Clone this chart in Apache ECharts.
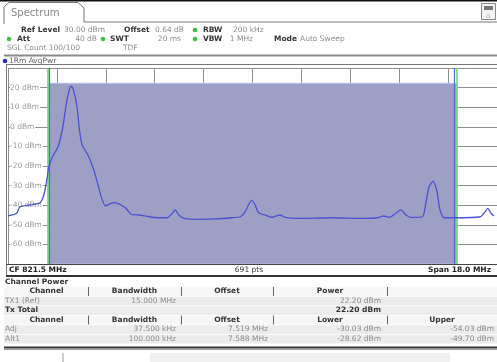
<!DOCTYPE html>
<html><head><meta charset="utf-8">
<script src="https://cdn.jsdelivr.net/npm/echarts@6/dist/echarts.min.js"></script>
<style>html,body{margin:0;padding:0;background:#fff}#c{width:497px;height:362px}</style>
</head><body><div id="c"></div>
<script>
// Frequency offset from CF 821.5 MHz (MHz), level (dBm)
const traceFreq = [-9.0,-8.68,-8.56,-8.2,-7.83,-7.68,-7.57,-7.5,-7.35,-7.16,-6.98,-6.85,-6.73,-6.67,-6.59,-6.46,-6.37,-6.27,-6.06,-5.88,-5.7,-5.57,-5.41,-5.27,-5.09,-4.84,-4.66,-4.47,-4.17,-3.8,-3.44,-3.14,-2.95,-2.85,-2.71,-2.52,-1.98,-1.36,-0.76,-0.45,-0.27,-0.15,-0.03,0.10,0.22,0.46,0.71,1.01,1.20,1.68,2.90,4.13,4.61,4.83,5.04,5.28,5.46,5.65,5.83,6.26,6.38,6.50,6.65,6.78,6.90,7.05,7.42,8.39,8.54,8.66,8.78,8.89];
const traceLevel = [-45.5,-44.1,-40.8,-39.9,-38.9,-34.8,-27.1,-20.5,-15,-10.2,0.0,12.0,19.6,20.8,18.8,10.3,-1.6,-9.3,-14.4,-20.4,-28.9,-35.7,-40.4,-39.4,-38.7,-39.9,-41.6,-44.6,-45.0,-45.9,-46.4,-46.4,-44.1,-42.4,-45.0,-46.7,-47.2,-47.0,-46.4,-45.9,-43.3,-39.9,-37.5,-39.9,-43.8,-45.0,-46.2,-45.0,-46.2,-46.7,-46.4,-46.7,-46.4,-45.5,-46.2,-44.1,-42.4,-45.0,-46.2,-45.9,-39.0,-30.6,-27.7,-32.2,-42.4,-46.4,-46.4,-45.9,-43.8,-41.6,-44.1,-45.5];
const yTicks = [20,10,0,-10,-20,-30,-40,-50,-60];
const channelBW = 15.0;      // MHz
const channelPower = 22.20;  // dBm
const span = 18.0;

const tableHead1 = ['Channel','Bandwidth','Offset','Power',''];
const tableRowTx = ['TX1 (Ref)','15.000 MHz','','22.20 dBm',''];
const tableRowTot = ['Tx Total','','','22.20 dBm',''];
const tableHead2 = ['Channel','Bandwidth','Offset','Lower','Upper'];
const tableRowAdj = ['Adj','37.500 kHz','7.519 MHz','-30.03 dBm','-54.03 dBm'];
const tableRowAlt = ['Alt1','100.000 kHz','7.588 MHz','-28.62 dBm','-49.70 dBm'];

const F = 'DejaVu Sans, Verdana, sans-serif';
const chart = echarts.init(document.getElementById('c'), null, {renderer:'canvas'});
const g = [];
function T(x,y,s,opt){ g.push({type:'text',x:x,y:y,style:Object.assign({text:s,font:'7.5px '+F,fill:'#8c8c8c',textVerticalAlign:'middle'},opt||{}),z:20}); }
function B(x,y,s,opt){ T(x,y,s,Object.assign({font:'bold 7.5px '+F,fill:'#333'},opt||{})); }
function R(x,y,w,h,fill,z){ g.push({type:'rect',shape:{x:x,y:y,width:w,height:h},style:{fill:fill},z:z||10}); }
function L(x1,y1,x2,y2,c,w,z){ g.push({type:'line',shape:{x1:x1,y1:y1,x2:x2,y2:y2},style:{stroke:c,lineWidth:w||1},z:z||15}); }
function Dot(x,y,c){ g.push({type:'circle',shape:{cx:x,cy:y,r:2.3},style:{fill:c},z:20}); }

// top chrome
L(0,0.5,497,0.5,'#111',2);
g.push({type:'polyline',shape:{points:[[4,24],[4,7],[9,2.5],[78,2.5],[84,8],[84,22],[497,22]]},style:{stroke:'#777',lineWidth:1,fill:null},z:15});
T(11,13,'Spectrum',{font:'10px '+F,fill:'#888'});
R(481,3,15,17,'#f4f4f4',14);
g.push({type:'rect',shape:{x:481.5,y:3.5,width:14,height:16},style:{fill:null,stroke:'#888'},z:15});
R(484,6,9,4,'#777',16);
T(488,15,'\u25B3',{font:'6px '+F,fill:'#777',textAlign:'center'});
// info block
B(21,30,'Ref Level'); T(64,30,'30.00 dBm');
B(124,30,'Offset'); T(155,30,'0.64 dB'); Dot(195,30,'#3fbf3f'); B(203,30,'RBW'); T(233,30,'200 kHz');
Dot(9,39,'#3fbf3f'); B(17,39,'Att'); T(97,39,'40 dB',{textAlign:'right'}); Dot(103,39,'#3fbf3f'); B(110,39,'SWT');
T(181,39,'20 ms',{textAlign:'right'}); Dot(195,39,'#3fbf3f'); B(203,39,'VBW'); T(253,39,'1 MHz',{textAlign:'right'});
B(274,39,'Mode'); T(300,39,'Auto Sweep');
T(7,48,'SGL Count 100/100'); T(123,48,'TDF');
L(4,55.5,497,55.5,'#8a8a8a',2);
Dot(5,61,'#2a2ad0'); T(9,61,'1Rm AvgPwr',{font:'7.5px '+F,fill:'#666'});
L(6,64.5,497,64.5,'#777',1);
L(6.5,64,6.5,276,'#777',1);
// bottom bar of diagram
R(7,265,490,10,'#fff',12);
L(6,264.5,497,264.5,'#444',1);
L(6,276,497,276,'#333',2);
B(9,270,'CF 821.5 MHz',{fill:'#222'});
T(249,270,'691 pts',{textAlign:'center',fill:'#333'});
B(491,270,'Span 18.0 MHz',{textAlign:'right',fill:'#222'});
// table
B(5,282,'Channel Power',{fill:'#333'});
const rows=[[tableHead1,291.5,true],[tableRowTx,301,false],[tableRowTot,310.5,'tot'],[tableHead2,320,true],[tableRowAdj,329.5,false],[tableRowAlt,339,false]];
const colX=[5,88,181,273,387,497];
rows.forEach(function(r){
  const cells=r[0], y=r[1], kind=r[2];
  R(4,y-4.3,493,8.8,kind===true?'#f6f6f6':'#ececec',9);
  if(kind===true){
    for(let i=0;i<5;i++){ if(cells[i]) B((colX[i]+colX[i+1])/2,y,cells[i],{textAlign:'center',fill:'#333'}); }
    [88,181,273,387].forEach(function(x){L(x+0.5,y-4.5,x+0.5,y+4.5,'#666',1);});
  } else if(kind==='tot'){
    B(5,y,cells[0],{fill:'#333'});
    B(381,y,cells[3],{textAlign:'right',fill:'#333'});
  } else {
    T(5,y,cells[0]);
    const rx=[0,176,268,381,494];
    for(let i=1;i<5;i++){ if(cells[i]) T(rx[i],y,cells[i],{textAlign:'right'}); }
  }
});
L(4,347.5,497,347.5,'#333',2);
L(4,349.5,497,349.5,'#999',1);
R(150,353,300,9,'#f0f0f0',9);
L(63,353,63,362,'#999',1);

chart.setOption({
  animation:false,
  backgroundColor:'#fff',
  grid:{left:8,right:-3,top:68,bottom:98,containLabel:false},
  xAxis:{type:'value',min:-span/2,max:span/2,interval:1.8,
    axisLine:{show:false},axisTick:{show:false},axisLabel:{show:false},
    splitLine:{show:true,lineStyle:{color:'#8e8e8e',width:1}}},
  yAxis:{type:'value',min:-70,max:30,interval:10,
    axisLine:{show:false},axisTick:{show:false},
    axisLabel:{inside:true,margin:2,fontSize:7.5,fontFamily:F,color:'#9a9a9a',backgroundColor:'#fff',padding:[0,1,0,0],
      formatter:function(v){return yTicks.indexOf(v)>=0? v+' dBm':'';}},
    splitLine:{show:true,lineStyle:{color:'#8e8e8e',width:1}}},
  series:[{
    type:'line',data:traceFreq.map(function(f,i){return [f,traceLevel[i]];}),
    showSymbol:false,smooth:0.2,z:5,
    lineStyle:{color:'#4b52d4',width:1.3},
    markArea:{silent:true,z:1,itemStyle:{color:'#9d9fc4',borderColor:'#b5bcef',borderWidth:1},
      data:[[{xAxis:-channelBW/2,yAxis:-70},{xAxis:channelBW/2,yAxis:channelPower}]]},
    markLine:{silent:true,symbol:'none',label:{show:false},z:3,
      data:[
        {xAxis:-7.55,lineStyle:{color:'#62e062',width:1.6,type:'solid'}},
        {xAxis:-7.48,lineStyle:{color:'#5a63d6',width:1.2,type:'solid'}},
        {xAxis:7.44,lineStyle:{color:'#5a63d6',width:1.2,type:'solid'}},
        {xAxis:7.52,lineStyle:{color:'#62e062',width:1.6,type:'solid'}}
      ]}
  }],
  graphic:g
});
</script></body></html>
